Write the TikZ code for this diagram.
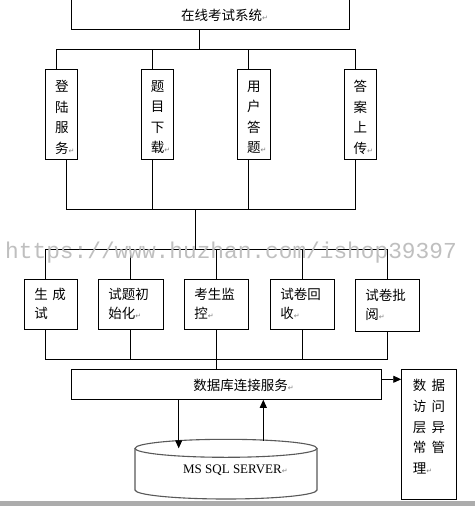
\documentclass[tikz,border=0pt]{standalone}
\usepackage{fontspec}
\usetikzlibrary{arrows.meta}
\newfontfamily\cjk{Noto Sans CJK SC}
\newfontfamily\symf{DejaVu Sans}
\newfontfamily\wmf{Liberation Mono}
\newfontfamily\serf{Liberation Serif}
\newcommand\retmark{{\symf\fontsize{7}{7}\selectfont\color{gray}↵}}
\tikzset{
  ln/.style={line width=0.9pt},
  bx/.style={draw, line width=0.9pt, inner sep=0pt},
  cj/.style={font=\cjk\fontsize{13.5}{16}\selectfont},
  vbox/.style={bx, minimum width=32.4pt, minimum height=90pt, align=center,
    font=\cjk\fontsize{13.5}{20.5}\selectfont},
  hbox/.style={bx, minimum height=50pt, align=left, inner xsep=10pt,
    font=\cjk\fontsize{13.5}{19}\selectfont},
  arr/.style={ln, -{Triangle[length=8pt,width=7pt]}},
  cyl/.style={draw=black!65, line width=1.1pt},
}
\begin{document}
\begin{tikzpicture}[x=1pt,y=-1pt]
\useasboundingbox (0,0) rectangle (475,506);
\clip (0,0) rectangle (475,506);
\fill[white] (0,0) rectangle (475,506);

% top system box
\node[bx, minimum width=277.3pt, minimum height=44.3pt] (sys) at (210.5,7.15) {};
\node[cj] (systxt) at (224.5,15.7) {在线考试系统\retmark};

% first level
\node[vbox] (v1) at (61.5,114.3) {};
\node[vbox] (v2) at (157.5,114.3) {};
\node[vbox] (v3) at (253.8,114.3) {};
\node[vbox] (v4) at (360.3,114.3) {};
\tikzset{vtxt/.style={align=center, inner sep=0pt, font=\cjk\fontsize{13.5}{20.5}\selectfont}}
\node[vtxt] (v1t) at (61.8,117.3) {登\\陆\\服\\务\rlap{\retmark}};
\node[vtxt] (v2t) at (157.5,117.3) {题\\目\\下\\载\rlap{\retmark}};
\node[vtxt] (v3t) at (253.8,117.3) {用\\户\\答\\题\rlap{\retmark}};
\node[vtxt] (v4t) at (360.3,117.3) {答\\案\\上\\传\rlap{\retmark}};

\coordinate (j1) at (199.3,49.3);
\draw[ln] (sys.south -| j1) -- (j1);
\draw[ln] ([xshift=-5pt]v1.north) |- ([xshift=-5pt]v4.north |- j1) -- ([xshift=-5pt]v4.north);
\draw[ln] ([xshift=-5pt]v2.north) -- ([xshift=-5pt]v2.north |- j1);
\draw[ln] ([xshift=-5pt]v3.north) -- ([xshift=-5pt]v3.north |- j1);

\coordinate (j2) at (195.3,209.3);
\draw[ln] ([xshift=5pt]v1.south) |- ([xshift=-5pt]v4.south |- j2) -- ([xshift=-5pt]v4.south);
\draw[ln] ([xshift=-5pt]v2.south) -- ([xshift=-5pt]v2.south |- j2);
\draw[ln] ([xshift=-5pt]v3.south) -- ([xshift=-5pt]v3.south |- j2);

\coordinate (j3) at (195.3,249.3);
\draw[ln] (j2) -- (j3);

% second level
\node[hbox, text width=33.4pt] (h1) at (51,304.3) {生 成\\试};
\node[hbox, text width=45pt] (h2) at (130.8,304.3) {试题初\\始化\retmark};
\node[hbox, text width=44.4pt] (h3) at (216.5,304.3) {考生监\\控\retmark};
\node[hbox, text width=44.4pt] (h4) at (302.5,304.3) {试卷回\\收\retmark};
\node[hbox, text width=44pt, minimum height=52pt] (h5) at (387.3,305.3) {试卷批\\阅\retmark};

\draw[ln] ([xshift=-5.7pt]h1.north) |- (h5.north |- j3) -- (h5.north);
\draw[ln] (h2.north) -- (h2.north |- j3);
\draw[ln] (h3.north) -- (h3.north |- j3);
\draw[ln] (h4.north) -- (h4.north |- j3);

\coordinate (j4) at (216.7,359);
\draw[ln] ([xshift=-5.7pt]h1.south) |- (h5.south |- j4) -- (h5.south);
\draw[ln] (h2.south) -- (h2.south |- j4);
\draw[ln] (h3.south) -- (h3.south |- j4);
\draw[ln] (h4.south) -- (h4.south |- j4);

% database connection
\node[bx, minimum width=309.6pt, minimum height=30pt] (dbc) at (226.5,384.3) {};
\node[cj] (dbctxt) at (240.5,385) {数据库连接服务\rlap{\retmark}};
\draw[ln] (j4) -- (j4 |- dbc.north);

% exception management
\node[bx, minimum width=54.6pt, minimum height=130pt] (err) at (429,434.3) {};
\node[align=left, font=\cjk\fontsize{13.5}{20.8}\selectfont] (errtxt) at (429,426.7)
  {数\hspace{5.5pt}据\\访\hspace{5.5pt}问\\层\hspace{5.5pt}异\\常\hspace{5.5pt}管\\理\retmark};
\draw[arr] ([yshift=5pt]dbc.east) -- ([yshift=5pt]dbc.east -| err.west);

% database cylinder
\draw[cyl, fill=white] (135,448.3) -- (135,490) arc[start angle=180, end angle=0, x radius=91, y radius=9] -- (317,448.3);
\draw[cyl] (226,448.3) ellipse [x radius=91, y radius=9];
\node[font=\serf\fontsize{13}{13}\selectfont] (db) at (232.5,470) {MS SQL SERVER\rlap{\retmark}};

\coordinate (dbin) at (178.7,448.3);
\coordinate (dbout) at (263.3,440.6);
\draw[arr] ([xshift=-47.8pt]dbc.south) -- (dbin);
\draw[arr] (dbout) -- (dbout |- dbc.south);

% bottom bar
\fill[gray!65] (0,501) rectangle (475,506);

% watermark
\node[font=\wmf\fontsize{22.8}{22.8}\selectfont, text=gray!50] (wm) at (231,253) {https://www.huzhan.com/ishop39397};
\end{tikzpicture}
\end{document}
